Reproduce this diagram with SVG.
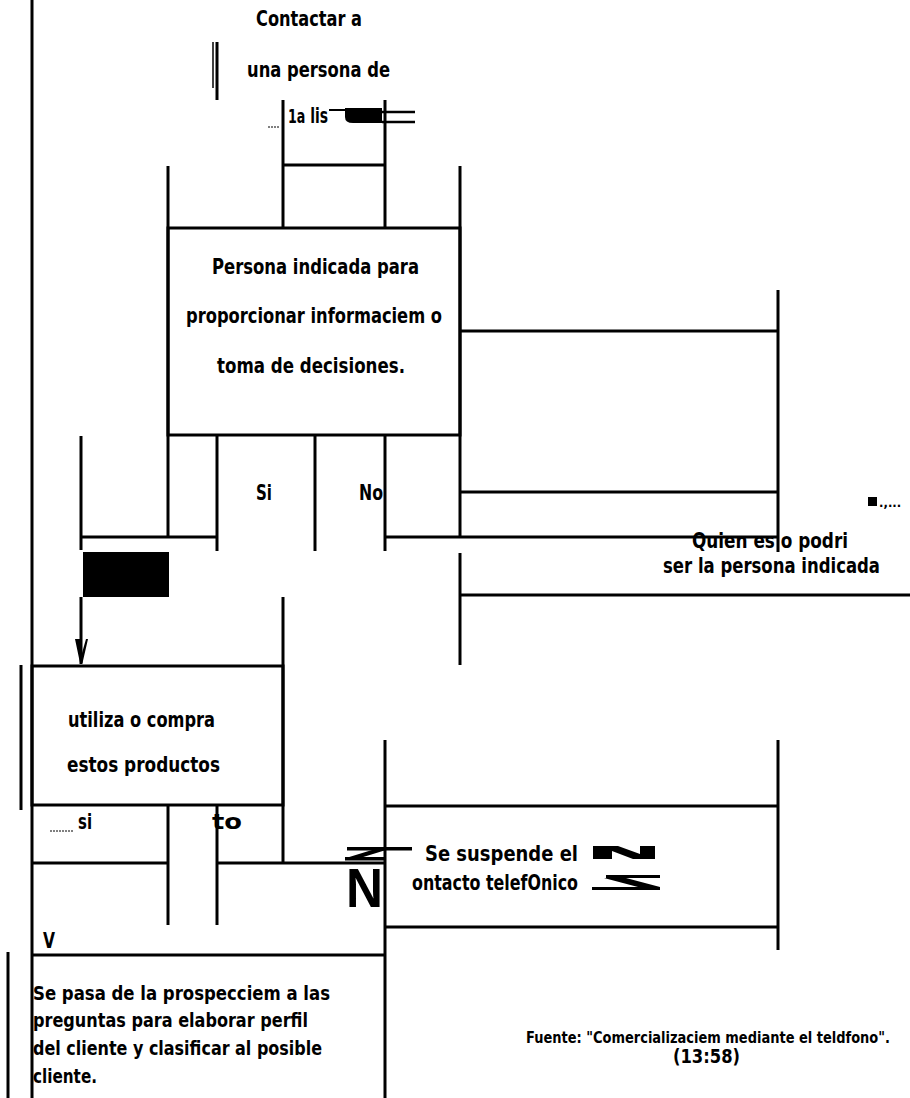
<svg xmlns="http://www.w3.org/2000/svg" width="910" height="1098" viewBox="0 0 910 1098">
<style>
.t{font-family:"DejaVu Sans Condensed","DejaVu Sans",sans-serif;font-weight:bold;font-size:21px;fill:#000}
.s18{font-size:19px}
.s17{font-size:16px}
.s20{font-size:21px}
.ln{stroke:#000;stroke-width:3;fill:none;stroke-linecap:butt}
.thin{stroke:#000;stroke-width:1.5;fill:none}
.box{fill:#fff;stroke:#000;stroke-width:3}
.blk{fill:#000}
</style>
<rect width="910" height="1098" fill="#fff"/>

<g id="n-persona">
<rect class="box" x="168" y="228" width="292" height="207"/>
<text class="t" x="212" y="274" textLength="207" lengthAdjust="spacingAndGlyphs">Persona indicada para</text>
<text class="t" x="186" y="323" textLength="256" lengthAdjust="spacingAndGlyphs">proporcionar informaciem o</text>
<text class="t" x="217" y="373" textLength="188" lengthAdjust="spacingAndGlyphs">toma de decisiones.</text>
</g>

<g id="n-utiliza">
<rect class="box" x="32" y="666" width="251" height="139"/>
<text class="t" x="68" y="727" textLength="147" lengthAdjust="spacingAndGlyphs">utiliza o compra</text>
<text class="t" x="67" y="772" textLength="153" lengthAdjust="spacingAndGlyphs">estos productos</text>
</g>

<g id="n-contactar">
<text class="t s20" x="256" y="26" textLength="106" lengthAdjust="spacingAndGlyphs">Contactar a</text>
<text class="t s20" x="247" y="77" textLength="143" lengthAdjust="spacingAndGlyphs">una persona de</text>
<text class="t" x="288" y="123" textLength="40" lengthAdjust="spacingAndGlyphs"><tspan style="font-size:19px">1a</tspan> lis</text>
<line x1="268" y1="127" x2="280" y2="127" stroke="#000" stroke-width="1" stroke-dasharray="2,1"/>
<line x1="329" y1="110" x2="346" y2="110" stroke="#000" stroke-width="2"/>
<path class="blk" d="M345,108 H382 V123 H353 Q345,123 345,117 Z"/>
<line x1="382" y1="112" x2="415" y2="112" stroke="#000" stroke-width="2.5"/>
<line x1="382" y1="122" x2="415" y2="122" stroke="#000" stroke-width="2.5"/>
</g>

<g id="n-si">
<text class="t" x="256" y="500" textLength="16" lengthAdjust="spacingAndGlyphs">Si</text>
</g>
<g id="n-no">
<text class="t" x="359" y="500" textLength="24" lengthAdjust="spacingAndGlyphs">No</text>
</g>

<g id="n-mark">
<rect class="blk" x="868" y="497" width="9" height="9"/>
<text class="t" style="font-size:13px" x="879" y="507">.,...</text>
</g>

<g id="n-quien">
<text class="t" x="692" y="548" textLength="156" lengthAdjust="spacingAndGlyphs">Quien es o podri</text>
<text class="t" x="663" y="573" textLength="217" lengthAdjust="spacingAndGlyphs">ser la persona indicada</text>
</g>

<g id="n-si2">
<line x1="50" y1="831" x2="73" y2="831" stroke="#000" stroke-width="1" stroke-dasharray="2,1"/>
<text class="t" x="78" y="829" textLength="14" lengthAdjust="spacingAndGlyphs">si</text>
</g>
<g id="n-no2">
<text class="t" x="212" y="829" textLength="30" lengthAdjust="spacingAndGlyphs">to</text>
</g>

<g id="n-suspende">
<text class="t" x="425" y="861" textLength="153" lengthAdjust="spacingAndGlyphs">Se suspende el</text>
<text class="t" x="412" y="890" textLength="166" lengthAdjust="spacingAndGlyphs">ontacto telefOnico</text>
<text x="346" y="907" textLength="37" lengthAdjust="spacingAndGlyphs" style="font-family:'Liberation Sans',Arial,sans-serif;font-weight:bold;font-size:56px">N</text>
<rect class="blk" x="347" y="847" width="65" height="3.5"/>
<polygon class="blk" points="372,850 386,850 360,858 346,858"/>
<rect class="blk" x="345" y="857" width="40" height="3.5"/>
<polygon class="blk" points="593,846 618,846 640,854 640,846 655,846 655,859 633,859 612,851 612,859 593,859"/>
<rect class="blk" x="606" y="875" width="54" height="3"/>
<polygon class="blk" points="604,878 626,878 660,887 638,887"/>
<rect class="blk" x="592" y="887" width="68" height="3"/>
</g>

<g id="n-pasa">
<text class="t" x="43" y="948" textLength="12" lengthAdjust="spacingAndGlyphs">V</text>
<text class="t s18" x="33" y="1000" textLength="297" lengthAdjust="spacingAndGlyphs">Se pasa de la prospecciem a las</text>
<text class="t s18" x="33" y="1027" textLength="275" lengthAdjust="spacingAndGlyphs">preguntas para elaborar perfil</text>
<text class="t s18" x="33" y="1055" textLength="289" lengthAdjust="spacingAndGlyphs">del cliente y clasificar al posible</text>
<text class="t s18" x="33" y="1083" textLength="64" lengthAdjust="spacingAndGlyphs">cliente.</text>
</g>

<g id="n-fuente">
<text class="t s17" x="526" y="1043" textLength="364" lengthAdjust="spacingAndGlyphs">Fuente: "Comercializaciem mediante el teldfono".</text>
<text class="t s18" x="673" y="1063" textLength="67" lengthAdjust="spacingAndGlyphs">(13:58)</text>
</g>

<g id="connectors">
<line class="ln" x1="32" y1="0" x2="32" y2="1098"/>
<line class="thin" x1="213" y1="42" x2="213" y2="88"/>
<line class="ln" x1="217" y1="42" x2="217" y2="100"/>
<line class="ln" x1="283" y1="100" x2="283" y2="228"/>
<line class="ln" x1="385" y1="100" x2="385" y2="228"/>
<line class="ln" x1="283" y1="165" x2="385" y2="165"/>
<line class="ln" x1="168" y1="166" x2="168" y2="537"/>
<line class="ln" x1="460" y1="166" x2="460" y2="537"/>
<line class="ln" x1="460" y1="331" x2="778" y2="331"/>
<line class="ln" x1="460" y1="492" x2="778" y2="492"/>
<line class="ln" x1="385" y1="537" x2="778" y2="537"/>
<line class="ln" x1="778" y1="290" x2="778" y2="552"/>
<line class="ln" x1="81" y1="436" x2="81" y2="550"/>
<line class="ln" x1="81" y1="537" x2="217" y2="537"/>
<line class="ln" x1="217" y1="435" x2="217" y2="551"/>
<line class="ln" x1="315" y1="435" x2="315" y2="551"/>
<line class="ln" x1="385" y1="435" x2="385" y2="551"/>
<rect class="blk" x="83" y="552" width="86" height="45"/>
<line class="ln" x1="81" y1="597" x2="81" y2="664"/>
<polygon class="blk" points="75,639 80,639 82,653 86,639 88,639 82.5,663 80,663"/>
<line class="ln" x1="283" y1="597" x2="283" y2="863"/>
<line class="ln" x1="460" y1="553" x2="460" y2="665"/>
<line class="ln" x1="460" y1="595" x2="910" y2="595"/>
<line class="ln" x1="21" y1="665" x2="21" y2="810"/>
<line class="ln" x1="168" y1="805" x2="168" y2="925"/>
<line class="ln" x1="217" y1="805" x2="217" y2="925"/>
<line class="ln" x1="32" y1="863" x2="168" y2="863"/>
<line class="ln" x1="217" y1="863" x2="385" y2="863"/>
<line class="ln" x1="385" y1="740" x2="385" y2="1098"/>
<line class="ln" x1="385" y1="806" x2="778" y2="806"/>
<line class="ln" x1="385" y1="927" x2="778" y2="927"/>
<line class="ln" x1="778" y1="740" x2="778" y2="950"/>
<line class="ln" x1="32" y1="955" x2="385" y2="955"/>
<line class="ln" x1="8" y1="952" x2="8" y2="1098"/>
</g>
</svg>
